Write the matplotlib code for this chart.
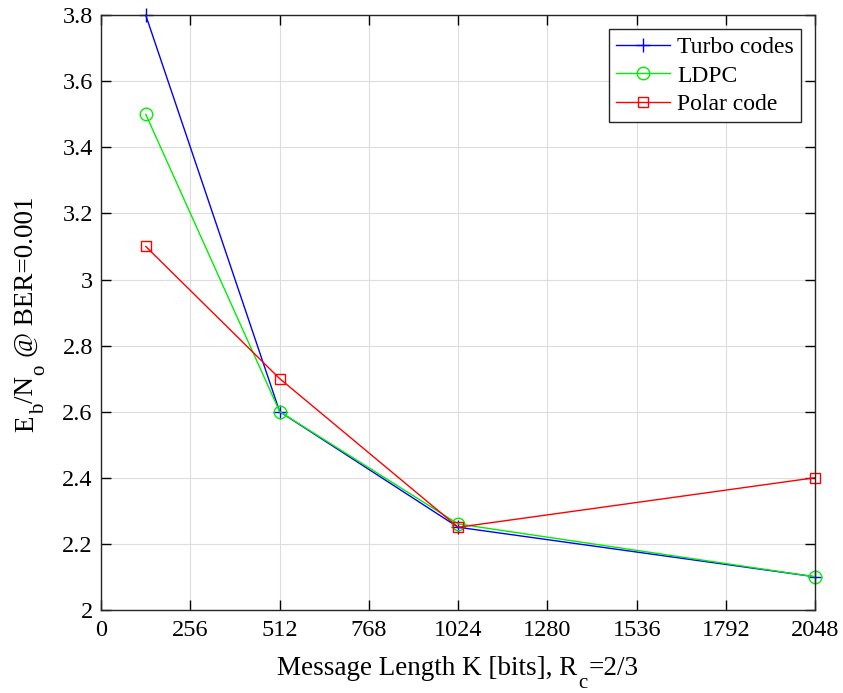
import matplotlib
matplotlib.use("Agg")
import matplotlib.pyplot as plt
from matplotlib.transforms import IdentityTransform

plt.rcParams['font.family'] = ['Liberation Serif', 'DejaVu Serif']

msg_len = [128, 512, 1024, 2048]
turbo = [3.8, 2.6, 2.25, 2.1]
ldpc = [3.5, 2.6, 2.26, 2.1]
polar = [3.1, 2.7, 2.25, 2.4]

x_ticks = [0, 256, 512, 768, 1024, 1280, 1536, 1792, 2048]
y_ticks = [2, 2.2, 2.4, 2.6, 2.8, 3, 3.2, 3.4, 3.6, 3.8]
y_labels = ['2', '2.2', '2.4', '2.6', '2.8', '3', '3.2', '3.4', '3.6', '3.8']

# label pieces: (text, size, drop below baseline in px, gap before in px)
xlabel_parts = [('Message Length K [bits], R', 19.5, 0, 0), ('c', 15, 13, 1), ('=2/3', 19.5, 0, 1)]
ylabel_parts = [('E', 19.5, 0, 0), ('b', 15, 11, 1), ('/N', 19.5, 0, 1), ('o', 15, 11, 1),
                ('@ BER=0.001', 19.5, 0, 8)]

fig = plt.figure(figsize=(8.43, 6.93), dpi=100)
ax = fig.add_axes([0.120, 0.120, 0.847, 0.858])

ax.plot(msg_len, turbo, color='blue', lw=1, marker='+', ms=10, mew=1,
        label='Turbo codes', clip_on=False)
ax.plot(msg_len, ldpc, color='#00ee00', lw=1, marker='o', ms=9, mfc='none', mew=1,
        label='LDPC', clip_on=False)
ax.plot(msg_len, polar, color='red', lw=1, marker='s', ms=7.5, mfc='none', mew=1,
        label='Polar code', clip_on=False)

ax.set_xlim(0, 2048)
ax.set_ylim(2, 3.8)
ax.set_xticks(x_ticks)
ax.set_yticks(y_ticks)
ax.set_yticklabels(y_labels)
ax.grid(True, color='#dddddd', lw=0.8)
ax.set_axisbelow(True)
ax.tick_params(direction='in', top=True, right=True, labelsize=17.5, length=7, width=1)
ax.tick_params(axis='x', pad=7)
ax.tick_params(axis='y', pad=6)
for s in ax.spines.values():
    s.set_linewidth(1)
    s.set_color('#262626')

leg = ax.legend(loc='upper right', fontsize=17, fancybox=False, framealpha=1,
                edgecolor='#262626', borderaxespad=0.6, handlelength=2.3,
                handletextpad=0.3, labelspacing=0.3, borderpad=0.3)
leg.get_frame().set_linewidth(1)


def seg_label(parts, cx, cy, vertical=False):
    # place MATLAB-style label with big, low subscripts, centred at (cx, cy) px
    renderer = fig.canvas.get_renderer()
    items = []
    for s, size, drop, gap in parts:
        t = fig.text(0, 0, s, fontsize=size, transform=IdentityTransform(),
                     ha='left', va='baseline', rotation_mode='anchor')
        w = t.get_window_extent(renderer).width
        items.append((t, w, drop, gap))
    total = sum(w + g for _, w, _, g in items)
    pos = -total / 2
    for t, w, drop, gap in items:
        pos += gap
        if vertical:
            t.set_rotation(90)
            t.set_position((cx + drop, cy + pos))
        else:
            t.set_position((cx + pos, cy - drop))
        pos += w


H = 693
seg_label(xlabel_parts, 458, H - 675)
seg_label(ylabel_parts, 33, H - 314, vertical=True)

fig.savefig('out.png', dpi=100)
